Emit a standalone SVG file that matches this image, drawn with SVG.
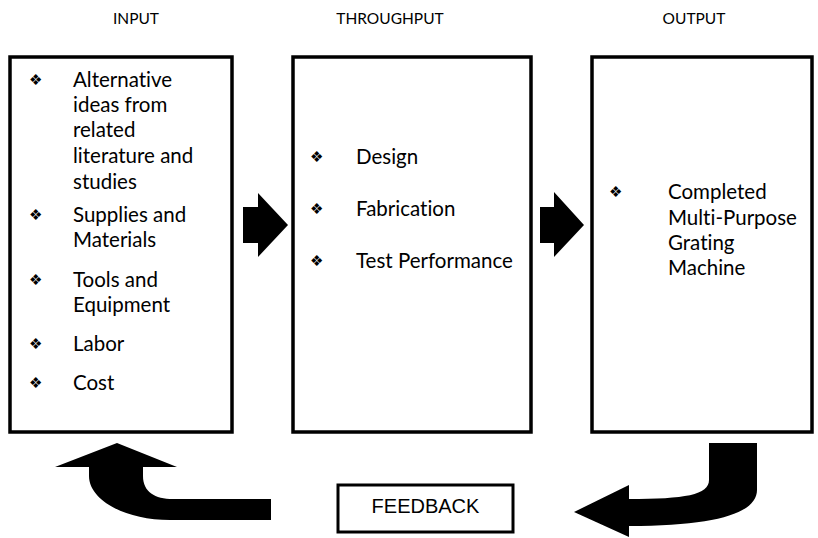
<svg xmlns="http://www.w3.org/2000/svg" width="818" height="538" viewBox="0 0 818 538">
<style>
.box{fill:#fff;stroke:#000;stroke-width:3.5}
.t{font-family:Lato,"Open Sans","Liberation Sans",sans-serif;font-size:20.5px;fill:#000;font-variant-ligatures:none;font-feature-settings:"liga" 0,"dlig" 0}
.h{font-family:Lato,"Open Sans","Liberation Sans",sans-serif;font-size:15.5px;fill:#000;text-anchor:middle}
.b{font-family:"DejaVu Sans",sans-serif;font-size:15px;fill:#000}
.arr{fill:#000}
</style>
<rect width="818" height="538" fill="#fff"/>
<g id="titles">
<text class="h" x="136" y="24">INPUT</text>
<text class="h" x="390" y="24">THROUGHPUT</text>
<text class="h" x="694" y="24">OUTPUT</text>
</g>
<g id="input">
<rect class="box" x="10" y="57" width="222" height="375"/>
<text class="b" x="29" y="85">❖</text>
<text class="t" x="73" y="87">Alternative</text>
<text class="t" x="73" y="112">ideas from</text>
<text class="t" x="73" y="137">related</text>
<text class="t" x="73" y="163">literature and</text>
<text class="t" x="73" y="189">studies</text>
<text class="b" x="29" y="220">❖</text>
<text class="t" x="73" y="222">Supplies and</text>
<text class="t" x="73" y="247">Materials</text>
<text class="b" x="29" y="285">❖</text>
<text class="t" x="73" y="287">Tools and</text>
<text class="t" x="73" y="312">Equipment</text>
<text class="b" x="29" y="349">❖</text>
<text class="t" x="73" y="351">Labor</text>
<text class="b" x="29" y="388">❖</text>
<text class="t" x="73" y="390">Cost</text>
</g>
<g id="throughput">
<rect class="box" x="293" y="57" width="238" height="375"/>
<text class="b" x="310" y="162">❖</text>
<text class="t" x="356" y="164">Design</text>
<text class="b" x="310" y="214">❖</text>
<text class="t" x="356" y="216">Fabrication</text>
<text class="b" x="310" y="266">❖</text>
<text class="t" x="356" y="268">Test Performance</text>
</g>
<g id="output">
<rect class="box" x="592" y="57" width="220" height="375"/>
<text class="b" x="609" y="197">❖</text>
<text class="t" x="668" y="199">Completed</text>
<text class="t" x="668" y="225">Multi-Purpose</text>
<text class="t" x="668" y="250">Grating</text>
<text class="t" x="668" y="275">Machine</text>
</g>
<g id="feedback">
<rect x="338" y="485" width="175" height="47" fill="#fff" stroke="#000" stroke-width="3"/>
<text x="425.5" y="513" font-family="'Liberation Sans',Arial,sans-serif" font-size="20" text-anchor="middle" fill="#000">FEEDBACK</text>
</g>
<g id="connectors">
<polygon class="arr" points="243,207 258,207 258,193 288,225 258,257 258,243 243,243"/>
<polygon class="arr" points="540,207 554,207 554,192 584,225 554,257 554,243 540,243"/>
<path class="arr" d="M117,443 L177,467 L143,467 L143,476 C143,492 155,499 173,499 L271,499 L271,520 L170,520 C125,520 89,500 89,476 L89,467 L55,467 Z"/>
<path class="arr" d="M574,512 L629,485 L629,499 C685,499 709,495 709,480 L709,443 L757,443 L757,490 C757,512 720,526 629,526 L629,537 Z"/>
</g>
</svg>
